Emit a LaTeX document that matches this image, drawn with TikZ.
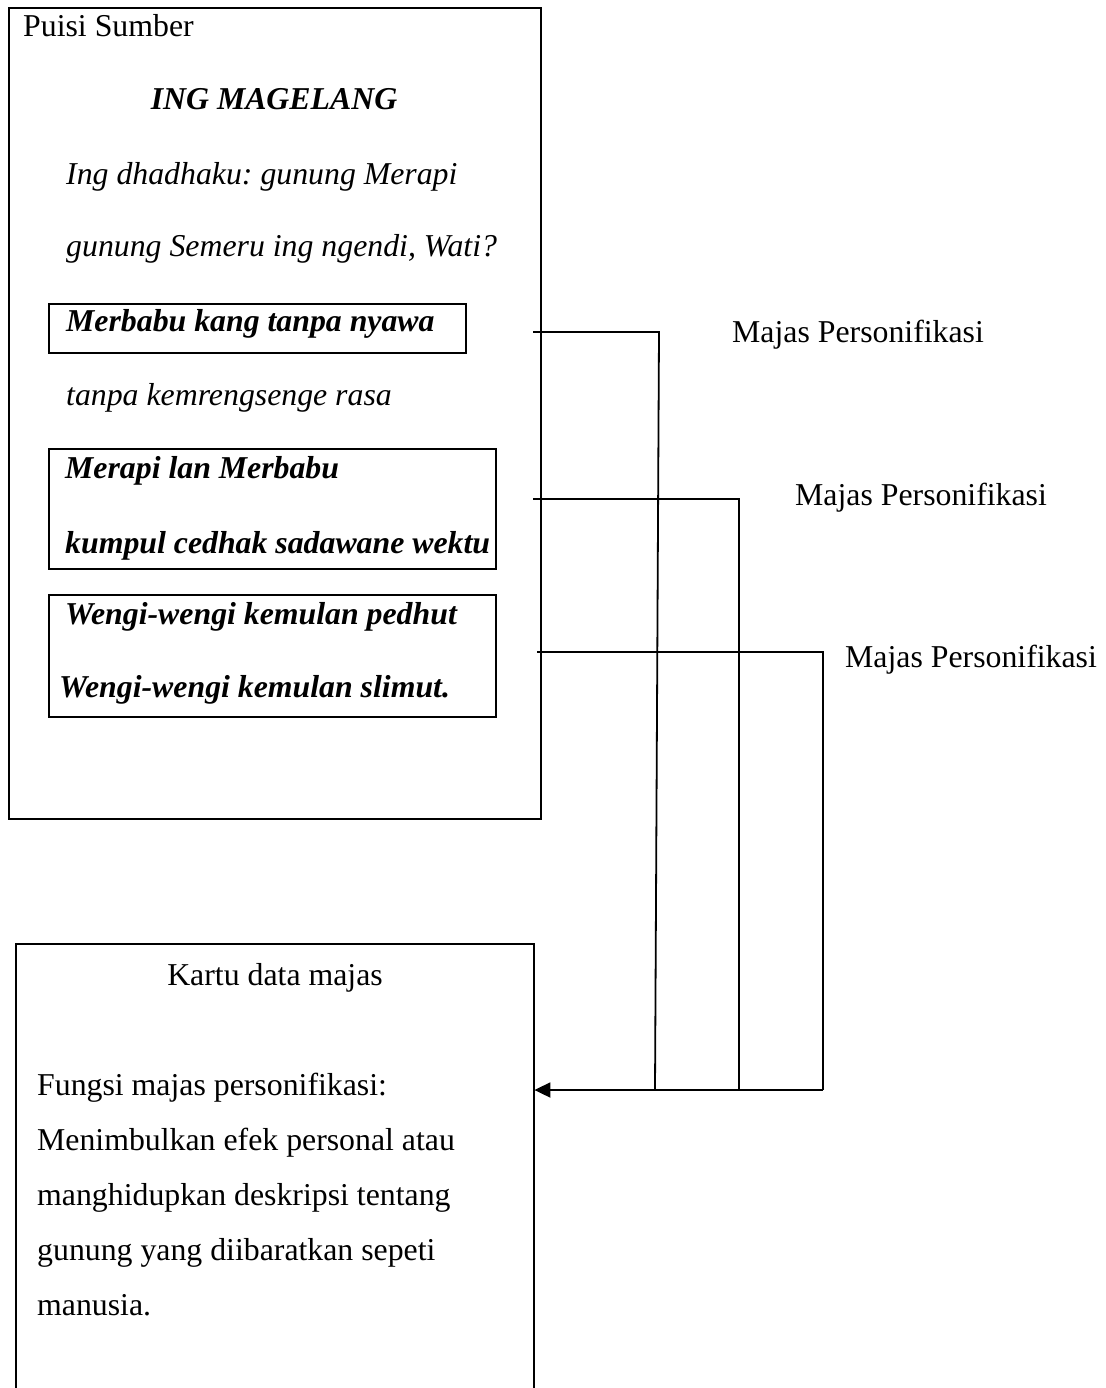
\documentclass[tikz,border=0pt]{standalone}
\usepackage{fontspec}
\setmainfont{Liberation Serif}
\usetikzlibrary{arrows.meta}
\frenchspacing
\begin{document}
\begin{tikzpicture}[x=1pt,y=-1pt,
  txt/.style={inner sep=0pt,anchor=base west,font=\fontsize{31.8}{38}\selectfont},
  poem/.style={txt,font=\fontsize{31.8}{38}\selectfont\itshape},
  poemb/.style={txt,font=\fontsize{31.8}{38}\selectfont\bfseries\itshape},
  bigbox/.style={draw,line width=2pt,rectangle,inner sep=0pt,anchor=north west},
  smallbox/.style={draw,line width=1.5pt,rectangle,inner sep=0pt,anchor=north west},
  conn/.style={line width=1.8pt}]
\useasboundingbox (0,0) rectangle (1105,1388);
\fill[white] (0,0) rectangle (1105,1388);

% source box
\node[bigbox,minimum width=532pt,minimum height=811pt] (src) at (8,7) {};
\node[smallbox,minimum width=417pt,minimum height=49pt] (b1) at (48,303) {};
\node[smallbox,minimum width=447pt,minimum height=120pt] (b2) at (48,448) {};
\node[smallbox,minimum width=447pt,minimum height=122pt] (b3) at (48,594) {};

\node[txt] (ps) at (23,37) {Puisi Sumber};
\node[txt,anchor=base,font=\fontsize{31.8}{38}\selectfont\bfseries\itshape] (title) at (274,110) {ING MAGELANG};
\node[poem] (l1) at (66,185) {Ing dhadhaku: gunung Merapi};
\node[poem] (l2) at (66,257) {gunung Semeru ing ngendi, Wati?};
\node[poemb] (l3) at (66,331) {Merbabu kang tanpa nyawa};
\node[poem] (l4) at (66,405) {tanpa kemrengsenge rasa};
\node[poemb] (l5) at (65,478) {Merapi lan Merbabu};
\node[poemb] (l6) at (65,553) {kumpul cedhak sadawane wektu};
\node[poemb] (l7) at (65,624) {Wengi-wengi kemulan pedhut};
\node[poemb] (l8) at (59,697) {Wengi-wengi kemulan slimut.};

% labels
\node[txt] (m1) at (732,342) {Majas Personifikasi};
\node[txt] (m2) at (795,505) {Majas Personifikasi};
\node[txt] (m3) at (845,667) {Majas Personifikasi};

% kartu box (open at bottom)
\node[rectangle,inner sep=0pt,anchor=north west,minimum width=518pt,minimum height=460pt] (kartu) at (16,944) {};
\draw[line width=2pt] (kartu.south west) -- (kartu.north west) -- (kartu.north east) -- (kartu.south east);
\node[txt,anchor=base] (kt) at (275,985) {Kartu data majas};
\node[txt] (k1) at (37,1095) {Fungsi majas personifikasi:};
\node[txt] (k2) at (37,1150) {Menimbulkan efek personal atau};
\node[txt] (k3) at (37,1205) {manghidupkan deskripsi tentang};
\node[txt] (k4) at (37,1260) {gunung yang diibaratkan sepeti};
\node[txt] (k5) at (37,1315) {manusia.};

% connectors
\coordinate (s1) at (533,332);
\coordinate (s2) at (533,499);
\coordinate (s3) at (537,652);
\coordinate (t1) at (659,332);
\coordinate (t2) at (739,499);
\coordinate (t3) at (823,652);
\coordinate (u1) at (655,1090);
\coordinate (u2) at (739,1090);
\coordinate (u3) at (823,1090);
\coordinate (arr) at (kartu.east |- u3);

\draw[conn] (s1) -- (t1) -- (u1);
\draw[conn] (s2) -- (t2) -- (u2);
\draw[conn] (s3) -- (t3) -- (u3);
\draw[conn,-{Triangle[length=16pt,width=15pt]}] (u3) -- (arr);
\end{tikzpicture}
\end{document}
